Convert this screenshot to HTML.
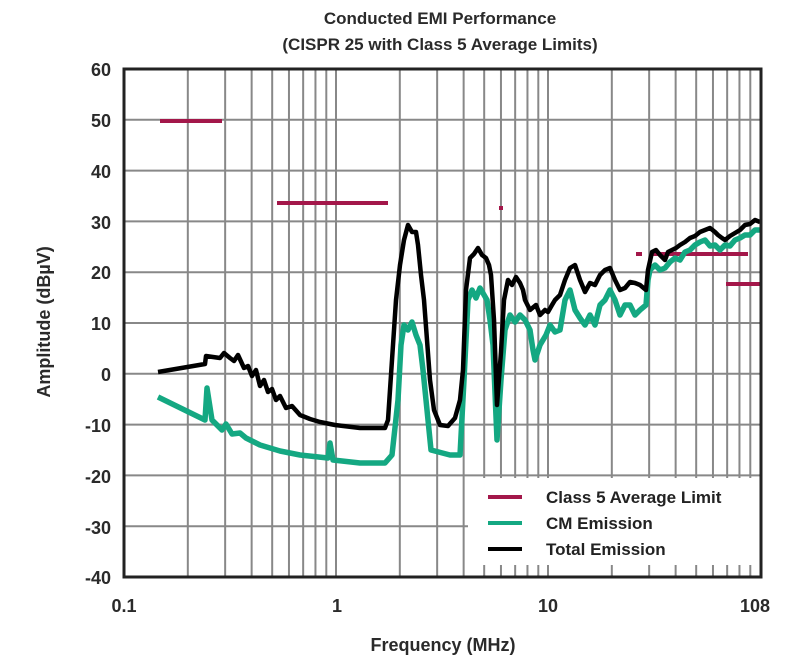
<!DOCTYPE html>
<html><head><meta charset="utf-8"><style>
html,body{margin:0;padding:0;background:#fff;}
svg{display:block;font-family:"Liberation Sans",sans-serif;font-weight:bold;}
</style></head><body>
<svg width="785" height="660" viewBox="0 0 785 660" xmlns="http://www.w3.org/2000/svg">
<text x="440" y="24" font-size="17" text-anchor="middle" fill="#2a2a2a">Conducted EMI Performance</text>
<text x="440" y="50" font-size="17" text-anchor="middle" fill="#2a2a2a">(CISPR 25 with Class 5 Average Limits)</text>
<g stroke="#888" stroke-width="2" id="grid"></g>
<g font-size="18" fill="#2a2a2a" text-anchor="end">
<text x="111" y="76">60</text><text x="111" y="127">50</text><text x="111" y="178">40</text><text x="111" y="229">30</text><text x="111" y="279">20</text><text x="111" y="330">10</text><text x="111" y="381">0</text><text x="111" y="432">-10</text><text x="111" y="483">-20</text><text x="111" y="534">-30</text><text x="111" y="584">-40</text>
</g>
<g font-size="18" fill="#2a2a2a" text-anchor="middle">
<text x="124" y="612">0.1</text><text x="337" y="612">1</text><text x="548" y="612">10</text><text x="755" y="612">108</text>
</g>
<text x="443" y="651" font-size="18" text-anchor="middle" fill="#2a2a2a">Frequency (MHz)</text>
<text transform="translate(50,322) rotate(-90)" font-size="18" text-anchor="middle" fill="#2a2a2a">Amplitude (dBµV)</text>
<g stroke="#a3174a" stroke-width="4" fill="none">
<line x1="160" y1="121" x2="222" y2="121"/>
<line x1="277" y1="203" x2="388" y2="203"/>
<line x1="499" y1="208" x2="503" y2="208"/>
<line x1="636" y1="254" x2="642" y2="254"/>
<line x1="651" y1="254" x2="748" y2="254"/>
<line x1="726" y1="284" x2="760" y2="284"/>
</g>
<polyline fill="none" stroke="#14a882" stroke-width="5.5" stroke-linejoin="round" points="158,397 205,420 207,388 212,420 222,430 226,424 232,434 240,433 246,438 260,445 280,451 300,455 328,458 330,443 333,460 360,463 385,463 392,455 398,400 401,345 404,325 408,330 412,322 416,335 420,345 423,370 426,400 431,450 450,455 460,455 464,380 468,300 472,290 476,298 480,288 487,300 490,320 493,345 497,440 501,380 505,330 510,315 515,322 520,315 525,320 530,330 533,350 535,360 540,345 546,335 550,325 555,332 560,330 565,300 570,290 575,310 580,318 585,325 590,315 595,325 600,305 605,300 610,290 615,300 620,315 625,305 630,305 635,315 640,310 646,305 648,280 650,270 655,265 660,270 665,268 670,262 675,258 680,260 685,252 690,250 695,245 700,242 705,240 710,246 715,245 720,250 725,245 730,246 735,240 740,238 745,235 750,235 755,230 760,230"/>
<polyline fill="none" stroke="#000" stroke-width="4.5" stroke-linejoin="round" points="158,372 205,364 206,356 220,358 224,353 230,358 234,361 238,355 244,368 248,366 252,376 256,370 260,386 264,380 268,392 272,389 276,400 280,396 286,408 292,406 300,415 310,419 320,422 335,425 360,428 385,428 388,420 392,360 396,300 400,265 404,240 408,225 412,232 416,232 418,245 421,275 424,300 427,340 430,380 434,410 440,425 448,426 455,418 460,400 463,370 466,290 470,258 474,254 478,248 482,255 486,258 489,265 491,275 494,320 497,405 501,352 504,300 508,280 512,285 516,277 520,283 523,290 525,300 530,310 536,305 540,315 545,310 548,312 552,305 555,300 560,295 565,280 570,268 575,265 580,280 585,292 590,283 595,285 600,275 605,270 610,268 615,280 620,290 625,288 630,282 635,283 640,285 646,290 648,270 652,252 656,250 660,255 665,260 668,252 672,250 676,248 680,245 685,242 690,238 695,236 700,232 705,230 710,228 715,232 718,235 722,238 725,240 730,236 735,233 740,230 745,225 750,224 755,220 760,222"/>
<rect x="468" y="478" width="292" height="97" fill="#fff"/>
<g id="ticks" stroke="#888" stroke-width="2"></g>
<rect x="124" y="69" width="637" height="508" fill="none" stroke="#222" stroke-width="3"/>
<g stroke-width="4"><line x1="488" y1="497" x2="522" y2="497" stroke="#a3174a"/><line x1="488" y1="523" x2="522" y2="523" stroke="#14a882"/><line x1="488" y1="549" x2="522" y2="549" stroke="#000"/></g>
<g font-size="17" fill="#222"><text x="546" y="503">Class 5 Average Limit</text><text x="546" y="529">CM Emission</text><text x="546" y="555">Total Emission</text></g>
<script>
var g=document.getElementById('grid'),t=document.getElementById('ticks'),ns='http://www.w3.org/2000/svg';
function L(p,a,b,c,d){var l=document.createElementNS(ns,'line');l.setAttribute('x1',a);l.setAttribute('y1',b);l.setAttribute('x2',c);l.setAttribute('y2',d);p.appendChild(l);}
for(var i=1;i<10;i++){var y=69+i*50.8;L(g,124,y,761,y);}
for(var dcd=0;dcd<3;dcd++)for(var k=1;k<10;k++){var x=124+212*(dcd+Math.log10(k));if(x>124&&x<761){L(g,x,69,x,577);if(x>468)L(t,x,565,x,577);}}
</script>
</svg>
</body></html>
